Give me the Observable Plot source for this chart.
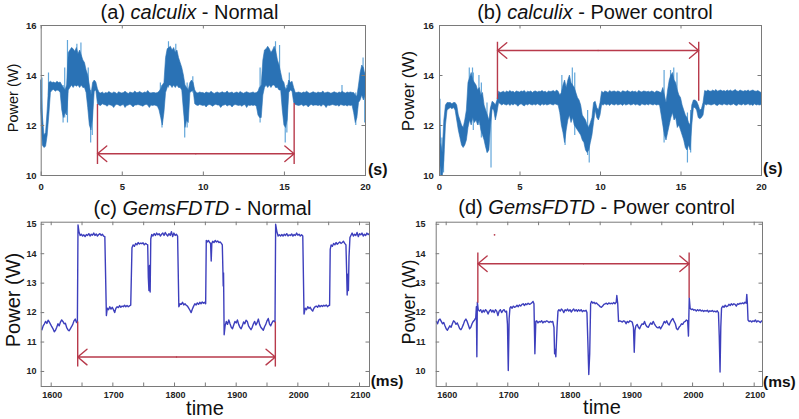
<!DOCTYPE html>
<html><head><meta charset="utf-8">
<script src="https://cdn.jsdelivr.net/npm/d3@7"></script>
<script src="https://cdn.jsdelivr.net/npm/@observablehq/plot@0.6"></script>
<style>
body{margin:0;background:#fff;}
#wrap{position:relative;width:799px;height:419px;overflow:hidden;font-family:"Liberation Sans",Arial,sans-serif;color:#111;}
.p{position:absolute;}
.title{position:absolute;font-size:20px;line-height:20px;white-space:nowrap;transform:translateX(-50%);}
.ylab{position:absolute;white-space:nowrap;line-height:1;transform:translate(-50%,-50%) rotate(-90deg);}
.unit{position:absolute;font-weight:bold;white-space:nowrap;line-height:1;}
.time{position:absolute;font-size:20px;line-height:14px;transform:translateX(-50%);white-space:nowrap;}
</style></head>
<body><div id="wrap"></div>
<script>
// ---------- tick values ----------
const sTicks = [0, 5, 10, 15, 20];
const wTicksAB = [10, 12, 14, 16];
const msTickMarks = [1600,1650,1700,1750,1800,1850,1900,1950,2000,2050,2100];
const msTickLabels = [1600,1700,1800,1900,2000,2100];
const wTicksCD = [10, 11, 12, 13, 14, 15];

// ---------- (a) calculix Normal: band envelope every 0.1 s ----------
const aLo = [
 12.6,11.2,11.1,11.15,11.6,12.4,13.3,13.4,13.42,13.35,
 13.4,13.38,13.3,12.6,12.3,12.5,12.4,13.4,13.5,13.6,
 13.5,13.6,13.55,13.6,13.5,13.6,13.5,13.5,13.3,12.7,
 12.0,11.8,12.3,13.35,13.4,12.85,12.8,12.78,12.85,12.82,
 12.8,12.75,12.82,12.8,12.78,12.7,12.8,12.83,12.8,12.76,
 12.8,12.82,12.7,12.78,12.8,12.83,12.79,12.72,12.8,12.8,
 12.82,12.8,12.78,12.75,12.8,12.83,12.8,12.7,12.8,12.78,
 12.8,12.78,12.75,12.6,12.3,12.0,12.5,13.3,13.5,13.6,
 13.6,13.5,13.6,13.5,13.6,13.5,13.5,13.4,12.6,11.9,
 12.2,12.1,13.3,13.35,13.4,12.85,12.8,12.78,12.82,12.8,
 12.78,12.8,12.72,12.8,12.82,12.8,12.75,12.8,12.83,12.8,
 12.8,12.7,12.78,12.8,12.82,12.76,12.8,12.8,12.72,12.8,
 12.82,12.8,12.78,12.8,12.75,12.8,12.82,12.7,12.8,12.78,
 12.8,12.78,12.8,12.75,12.4,12.3,12.3,13.2,13.5,13.6,
 13.5,13.6,13.5,13.6,13.6,13.5,13.5,13.4,13.4,12.6,
 12.0,11.9,12.2,13.3,13.4,13.35,12.9,12.82,12.8,12.78,
 12.8,12.82,12.76,12.8,12.8,12.72,12.8,12.82,12.78,12.8,
 12.8,12.78,12.8,12.75,12.82,12.8,12.7,12.8,12.78,12.8,
 12.82,12.8,12.78,12.8,12.75,12.82,12.8,12.78,12.8,12.76,
 12.8,12.78,12.8,12.5,12.1,12.3,12.9,13.0,13.2,13.0,
 13.2];
const aHi = [
 13.8,12.4,11.6,11.7,12.6,13.7,13.75,13.7,13.72,13.68,
 13.75,13.7,13.72,13.6,13.5,13.4,13.6,14.9,15.0,15.1,
 15.05,14.95,15.1,14.85,15.0,14.8,14.6,14.5,14.2,14.0,
 13.6,13.2,13.7,13.8,13.72,13.45,13.3,13.28,13.32,13.26,
 13.3,13.28,13.34,13.3,13.27,13.32,13.3,13.25,13.33,13.3,
 13.28,13.3,13.35,13.3,13.26,13.32,13.3,13.28,13.36,13.3,
 13.3,13.34,13.3,13.28,13.32,13.3,13.38,13.3,13.28,13.3,
 13.3,13.28,13.3,13.35,13.45,13.6,13.7,14.7,15.05,15.1,
 15.15,15.0,15.1,14.9,15.0,14.7,14.5,14.3,14.0,13.6,
 13.5,13.4,13.7,13.8,13.7,13.4,13.3,13.28,13.32,13.3,
 13.3,13.27,13.32,13.3,13.28,13.35,13.3,13.26,13.3,13.32,
 13.28,13.3,13.33,13.29,13.3,13.36,13.28,13.3,13.32,13.27,
 13.3,13.32,13.28,13.34,13.3,13.27,13.3,13.33,13.3,13.28,
 13.3,13.32,13.28,13.3,13.35,13.5,13.6,14.6,15.0,15.05,
 15.15,15.05,14.9,15.0,15.15,14.95,14.6,14.4,14.1,13.8,
 13.7,13.4,13.5,13.8,13.7,13.75,13.5,13.3,13.3,13.32,
 13.3,13.28,13.32,13.3,13.35,13.3,13.27,13.3,13.33,13.3,
 13.28,13.32,13.3,13.3,13.36,13.28,13.3,13.32,13.3,13.27,
 13.3,13.33,13.3,13.28,13.32,13.3,13.35,13.3,13.28,13.32,
 13.3,13.32,13.3,13.3,13.2,13.15,13.6,14.1,14.4,14.3,
 14.0];
// sharp excursions [time, low, high]
const aSpikes = [
 [0.05,12.0,13.9],[0.45,13.2,14.1],[1.35,12.1,13.6],[1.45,12.3,14.3],[1.62,12.1,15.4],
 [2.2,13.6,15.25],[2.45,13.6,15.3],[2.9,13.3,14.3],[3.05,11.3,13.4],[3.15,11.6,13.2],
 [7.35,13.0,13.7],[7.45,11.9,13.6],[7.85,13.5,15.35],[8.3,13.6,15.25],[8.85,11.5,13.5],
 [9.0,11.9,13.7],[9.35,13.3,13.95],[13.45,12.4,13.5],[13.5,12.1,14.3],[14.45,13.5,15.35],
 [14.7,13.5,15.2],[15.05,11.3,13.5],[15.15,11.7,13.6],[15.3,13.4,14.1],[18.55,13.2,13.6],
 [19.4,12.0,13.3],[19.85,13.2,14.7],[19.95,12.1,14.1]];

// ---------- (b) calculix Power control ----------
const bLo = [
 11.0,10.0,10.0,10.6,12.0,12.6,12.65,12.7,12.65,12.7,
 12.6,12.2,11.8,11.5,11.2,11.1,11.2,11.4,11.9,12.2,
 12.0,12.3,12.1,12.2,12.0,12.2,11.8,11.6,11.4,11.1,
 10.9,11.0,12.0,12.65,12.6,12.2,12.5,12.9,12.85,12.8,
 12.85,12.82,12.8,12.85,12.78,12.84,12.8,12.85,12.82,12.75,
 12.82,12.85,12.8,12.76,12.84,12.8,12.85,12.82,12.8,12.84,
 12.8,12.85,12.82,12.78,12.85,12.8,12.84,12.8,12.82,12.85,
 12.82,12.8,12.85,12.82,12.8,12.5,12.0,11.7,11.3,11.8,
 12.2,12.4,12.1,12.3,12.0,11.9,11.8,11.7,11.6,11.4,
 11.3,11.0,10.9,11.0,11.3,11.6,12.1,12.6,12.3,12.2,
 12.4,12.82,12.8,12.85,12.8,12.84,12.78,12.85,12.82,12.8,
 12.85,12.8,12.82,12.84,12.78,12.85,12.8,12.82,12.85,12.8,
 12.82,12.85,12.8,12.84,12.8,12.78,12.85,12.82,12.8,12.84,
 12.8,12.85,12.82,12.8,12.84,12.8,12.82,12.8,12.4,12.0,
 11.6,11.4,11.7,12.0,12.3,12.5,12.2,12.3,11.9,12.0,
 11.8,11.6,11.4,11.1,11.0,11.2,11.0,12.0,12.7,12.7,
 12.6,12.3,12.25,12.3,12.4,12.85,12.8,12.84,12.82,12.8,
 12.82,12.85,12.8,12.78,12.84,12.82,12.8,12.85,12.82,12.8,
 12.84,12.8,12.82,12.85,12.8,12.78,12.84,12.82,12.8,12.85,
 12.8,12.82,12.85,12.8,12.82,12.78,12.85,12.8,12.82,12.8,
 12.82];
const bHi = [
 13.0,11.3,10.9,12.2,12.8,12.9,12.9,12.9,12.85,12.9,
 12.9,12.8,12.4,12.2,12.0,11.9,12.2,12.6,13.7,13.9,
 14.1,13.8,13.7,13.6,13.4,13.5,13.2,13.3,12.8,12.6,
 12.4,12.2,12.7,12.95,12.9,12.8,13.0,13.35,13.3,13.32,
 13.35,13.3,13.36,13.32,13.38,13.33,13.35,13.3,13.36,13.34,
 13.32,13.36,13.34,13.38,13.3,13.35,13.33,13.36,13.3,13.35,
 13.36,13.32,13.35,13.34,13.38,13.33,13.35,13.3,13.36,13.34,
 13.35,13.38,13.33,13.4,13.35,13.2,13.3,13.6,13.8,13.5,
 13.8,14.0,13.7,13.6,13.5,13.3,13.1,13.0,12.8,12.4,
 12.3,12.2,12.0,11.9,12.1,12.3,12.9,12.95,12.7,12.6,
 12.9,13.35,13.3,13.36,13.34,13.3,13.38,13.33,13.35,13.36,
 13.32,13.36,13.34,13.3,13.37,13.35,13.33,13.38,13.34,13.32,
 13.36,13.33,13.35,13.3,13.38,13.34,13.32,13.36,13.35,13.33,
 13.35,13.32,13.36,13.34,13.3,13.36,13.35,13.32,13.3,13.5,
 13.2,12.9,13.4,13.8,14.0,14.1,13.8,13.7,13.4,13.2,
 13.1,12.8,12.6,12.4,12.3,12.1,12.0,12.8,13.0,13.0,
 12.95,12.8,12.6,12.65,12.9,13.38,13.35,13.4,13.36,13.35,
 13.4,13.36,13.42,13.35,13.38,13.4,13.36,13.38,13.35,13.4,
 13.36,13.4,13.35,13.38,13.42,13.36,13.35,13.4,13.37,13.35,
 13.38,13.36,13.4,13.35,13.38,13.4,13.36,13.35,13.38,13.34,
 13.3];
const bSpikes = [
 [0.03,11.0,13.05],[0.15,10.0,11.5],[0.25,10.1,11.0],[1.85,12.2,14.3],[2.05,12.3,14.3],
 [2.1,11.8,14.1],[2.45,12.0,14.0],[2.6,11.5,13.7],[2.95,10.9,12.9],[3.2,10.3,12.7],
 [7.6,12.2,14.0],[7.8,11.2,13.2],[8.25,12.4,14.3],[8.4,11.6,14.1],[9.2,10.8,12.6],
 [9.3,10.5,12.0],[13.95,11.3,14.2],[14.35,12.3,14.2],[14.55,12.5,14.3],[14.75,12.2,14.1],
 [15.4,10.5,12.5],[15.6,10.9,12.6]];

// ---------- (c) GemsFDTD Normal: [ms, W] ----------
const cSeries = [
 [1585,11.42],[1587,11.55],[1589,11.62],[1591,11.7],[1593,11.63],[1595,11.74],[1597,11.68],[1599,11.6],
 [1601,11.52],[1603,11.45],[1605,11.35],[1607,11.4],[1609,11.5],[1611,11.62],[1613,11.55],[1615,11.68],
 [1617,11.75],[1619,11.7],[1621,11.62],[1623,11.64],[1625,11.5],[1627,11.42],[1629,11.38],[1631,11.45],
 [1633,11.52],[1635,11.6],[1637,11.72],[1639,11.78],[1641,11.66],[1642.5,11.7],
 [1643.5,14.98],[1645,14.75],[1647,14.62],[1649,14.66],[1651,14.6],[1653,14.64],[1655,14.58],[1657,14.65],
 [1659,14.62],[1661,14.68],[1663,14.6],[1665,14.66],[1667,14.63],[1669,14.7],[1671,14.62],[1673,14.67],
 [1675,14.6],[1677,14.65],[1679,14.68],[1681,14.62],[1683,14.66],[1685,14.6],[1687,14.58],
 [1689.5,11.9],[1691,12.15],[1693,12.1],[1695,12.2],[1697,12.12],[1699,12.18],[1701,12.1],[1703,12.0],
 [1705,12.15],[1707,12.2],[1709,12.17],[1711,12.24],[1713,12.18],[1715,12.22],[1717,12.2],[1719,12.25],
 [1721,12.2],[1723,12.24],[1725,12.2],[1727,12.23],[1729,12.25],
 [1731,14.2],[1733,14.3],[1735,14.25],[1737,14.35],[1739,14.3],[1741,14.38],[1743,14.33],[1745,14.36],
 [1747,14.34],[1749,14.37],[1751,14.3],[1753,14.35],[1755,14.32],[1756.5,14.3],
 [1757.5,13.2],[1758.5,12.75],[1759.5,13.6],[1760.5,12.7],[1761.5,14.5],[1763,14.65],[1765,14.6],
 [1767,14.68],[1769,14.62],[1771,14.7],[1773,14.64],[1775,14.68],[1777,14.6],[1779,14.66],[1781,14.7],
 [1783,14.62],[1785,14.72],[1787,14.65],[1789,14.6],[1791,14.68],[1793,14.62],[1795,14.75],[1797,14.58],
 [1799,14.7],[1801,14.62],[1803,14.66],[1805,14.6],
 [1807,12.2],[1809,12.3],[1811,12.28],[1813,12.35],[1815,12.26],[1817,12.3],[1819,12.25],[1821,12.22],
 [1823,12.15],[1825,12.08],[1827,12.0],[1829,12.12],[1831,12.22],[1833,12.3],[1835,12.26],[1837,12.33],
 [1839,12.28],[1841,12.35],[1843,12.3],[1845,12.36],[1847,12.32],[1849,12.35],[1850.5,12.3],
 [1851.5,14.45],[1853,14.4],[1855,14.45],[1857,14.38],[1858.5,14.35],[1859.5,13.75],[1860.5,14.35],
 [1862,14.42],[1864,14.38],[1866,14.45],[1868,14.4],[1870,14.43],[1872,14.38],[1874,14.4],[1876,14.35],
 [1877.5,14.3],[1878.5,13.4],[1879,12.9],[1879.5,13.35],[1880.5,11.25],
 [1882,11.55],[1884,11.7],[1886,11.6],[1888,11.75],[1890,11.62],[1892,11.5],[1894,11.45],[1896,11.58],
 [1898,11.7],[1900,11.65],[1902,11.75],[1904,11.6],[1906,11.5],[1908,11.45],[1910,11.55],[1912,11.68],
 [1914,11.62],[1916,11.74],[1918,11.7],[1920,11.55],[1922,11.48],[1924,11.42],[1926,11.5],[1928,11.62],
 [1930,11.7],[1932,11.58],[1934,11.66],[1936,11.78],[1938,11.6],[1940,11.5],[1942,11.45],[1944,11.4],
 [1946,11.52],[1948,11.6],[1950,11.72],[1952,11.8],[1954,11.62],[1956,11.55],[1958,11.65],[1960,11.72],
 [1962,11.7],[1963,11.68],
 [1964,15.0],[1966,14.75],[1968,14.6],[1970,14.64],[1972,14.6],[1974,14.65],[1976,14.6],[1978,14.66],
 [1980,14.62],[1982,14.68],[1984,14.6],[1986,14.64],[1988,14.62],[1990,14.67],[1992,14.6],[1994,14.65],
 [1996,14.62],[1998,14.7],[2000,14.63],[2002,14.66],[2004,14.6],[2006,14.64],[2008,14.6],
 [2010,11.95],[2012,12.15],[2014,12.1],[2016,12.2],[2018,12.14],[2020,12.18],[2022,12.1],[2024,12.05],
 [2026,12.15],[2028,12.2],[2030,12.22],[2032,12.18],[2034,12.25],[2036,12.2],[2038,12.24],[2040,12.21],
 [2042,12.25],[2044,12.22],[2046,12.26],[2048,12.2],[2050,12.24],[2051.5,12.25],
 [2052.5,14.15],[2054,14.3],[2056,14.25],[2058,14.35],[2060,14.3],[2062,14.38],[2064,14.32],[2066,14.36],
 [2068,14.4],[2070,14.35],[2072,14.38],[2074,14.42],[2076,14.35],[2078,14.3],[2079,13.5],[2080,12.6],
 [2081,13.3],[2082,12.75],[2083,13.9],[2084.5,14.55],[2086,14.62],[2088,14.7],[2090,14.6],[2092,14.66],
 [2094,14.62],[2096,14.72],[2098,14.58],[2100,14.68],[2102,14.64],[2104,14.7],[2106,14.6],[2108,14.66],
 [2110,14.62],[2112,14.7],[2114,14.65],[2116,14.68]];

// ---------- (d) GemsFDTD Power control: [ms, W] ----------
const dSeries = [
 [1584,11.7],[1586,11.62],[1588,11.75],[1590,11.78],[1592,11.7],[1594,11.62],[1596,11.66],[1598,11.55],
 [1600,11.45],[1602,11.4],[1604,11.48],[1606,11.55],[1608,11.5],[1610,11.62],[1612,11.72],[1614,11.68],
 [1616,11.6],[1618,11.65],[1620,11.55],[1622,11.45],[1624,11.42],[1626,11.5],[1628,11.6],[1630,11.72],
 [1632,11.78],[1634,11.7],[1636,11.58],[1638,11.45],[1640,11.5],[1642,11.62],[1644,11.7],[1646,11.75],
 [1648,11.82],[1649,12.2],[1649.8,10.5],[1650.6,12.35],[1652,12.1],[1654,12.05],[1656,12.1],[1658,12.0],
 [1660,12.08],[1662,12.02],[1664,12.1],[1666,12.05],[1668,11.95],[1670,12.05],[1672,12.1],[1674,12.02],
 [1676,12.08],[1678,12.0],[1680,12.1],[1682,12.05],[1684,11.9],[1686,12.05],[1688,12.1],[1690,12.0],
 [1692,12.07],[1694,12.1],[1696,12.02],[1698,12.05],[1699.5,11.6],[1700.8,10.03],[1702.2,11.8],
 [1703.5,12.15],[1705,12.2],[1707,12.15],[1709,12.22],[1711,12.18],[1713,12.2],[1715,12.25],[1717,12.2],
 [1719,12.26],[1721,12.22],[1723,12.28],[1725,12.3],[1727,12.24],[1729,12.3],[1731,12.27],[1733,12.32],
 [1735,12.28],[1737,12.3],[1739,12.33],[1741,12.38],[1742.5,12.3],[1744,10.6],[1745.5,11.7],
 [1747,11.72],[1749,11.65],[1751,11.7],[1753,11.68],[1755,11.72],[1757,11.65],[1759,11.7],[1761,11.68],
 [1763,11.72],[1765,11.7],[1767,11.66],[1769,11.7],[1771,11.68],[1773,11.7],[1775,11.5],[1776,10.6],
 [1777,10.75],[1778,10.5],[1779,11.0],[1780,11.5],[1781.5,12.05],[1783,12.1],[1785,12.05],[1787,12.12],
 [1789,12.08],[1791,12.0],[1793,12.1],[1795,12.06],[1797,12.12],[1799,12.05],[1801,12.1],[1803,12.02],
 [1805,12.08],[1807,12.12],[1809,12.05],[1811,12.1],[1813,12.04],[1815,12.1],[1817,12.05],[1819,12.1],
 [1821,12.03],[1823,12.07],[1825,12.05],[1827,12.08],[1828.5,12.0],[1830,11.0],[1831.5,9.9],[1833,10.6],
 [1834.5,12.3],[1836,12.38],[1838,12.32],[1840,12.35],[1842,12.3],[1844,12.33],[1846,12.28],[1848,12.25],
 [1850,12.2],[1852,12.18],[1854,12.22],[1856,12.28],[1858,12.3],[1860,12.32],[1862,12.28],[1864,12.33],
 [1866,12.3],[1868,12.32],[1870,12.3],[1872,12.34],[1874,12.3],[1876,12.35],[1877,12.58],[1878.5,12.3],
 [1879.8,11.7],[1882,11.72],[1884,11.7],[1886,11.68],[1888,11.72],[1890,11.7],[1892,11.62],[1894,11.7],
 [1896,11.66],[1898,11.72],[1900,11.7],[1902,11.68],[1904,11.5],[1905.3,10.65],[1906.5,11.4],[1908,11.55],
 [1910,11.6],[1912,11.5],[1914,11.45],[1916,11.55],[1918,11.62],[1920,11.6],[1922,11.7],[1924,11.58],
 [1926,11.52],[1928,11.5],[1930,11.58],[1932,11.65],[1934,11.6],[1936,11.7],[1938,11.62],[1940,11.55],
 [1942,11.5],[1944,11.48],[1946,11.52],[1948,11.45],[1950,11.52],[1952,11.6],[1954,11.7],[1956,11.65],
 [1958,11.72],[1960,11.62],[1962,11.58],[1964,11.68],[1966,11.75],[1968,11.8],[1970,11.7],[1972,11.62],
 [1974,11.45],[1976,11.42],[1978,11.5],[1980,11.55],[1982,11.62],[1984,11.6],[1986,11.68],[1988,11.7],
 [1990,11.75],[1992,11.72],[1993.3,11.2],[1994.6,12.5],[1996,12.15],[1998,12.1],[2000,12.12],[2002,12.08],
 [2004,12.1],[2006,12.05],[2008,12.1],[2010,12.06],[2012,12.1],[2014,12.05],[2016,12.08],[2018,12.04],
 [2020,12.07],[2022,12.05],[2024,12.08],[2026,12.02],[2028,12.06],[2030,12.04],[2032,12.07],[2034,12.03],
 [2036,12.05],[2038,12.02],[2040,12.06],[2042,12.0],[2043.3,11.2],[2044.6,9.98],[2045.8,11.5],[2047,12.15],
 [2049,12.22],[2051,12.18],[2053,12.25],[2055,12.2],[2057,12.22],[2059,12.28],[2061,12.24],[2063,12.3],
 [2065,12.26],[2067,12.3],[2069,12.28],[2071,12.22],[2073,12.3],[2075,12.28],[2077,12.32],[2079,12.3],
 [2081,12.33],[2083,12.3],[2085,12.35],[2087,12.32],[2088,12.62],[2089,12.3],[2090,11.75],[2092,11.7],
 [2094,11.72],[2096,11.68],[2098,11.72],[2100,11.7],[2102,11.75],[2104,11.68],[2106,11.72],[2108,11.7],
 [2110,11.66],[2112,11.72],[2115,11.7]];

// ---------- annotation arrows: [xLeft, xRight, yArrow, yStartLeft, yStartRight, yEnd] ----------
const aArrow = [3.47, 15.6, 10.87, 12.84, 12.88, 10.44];
const bArrow = [3.6, 16.1, 15.0, 13.04, 12.97, 15.33];
const cArrow = [1643, 1963.5, 10.49, 11.68, 11.68, 10.15];
const dArrow = [1651.4, 1994.4, 13.66, 12.32, 12.49, 14.02];
const dStray = [[1678.5, 14.64]];

// ---------- drawing ----------
const RED = "#b83a4b", BAND = "#2a72b5", LIGHT = "#62a6da", PURPLE = "#3d3fbd", FRAME = "#7a7a7a";

function arrowMarks(a) {
  const [xl, xr, ya, y1l, y1r, ye] = a;
  const mid = (xl + xr) / 2;
  return [
    Plot.ruleX([[xl, y1l, ye], [xr, y1r, ye]], {x: d => d[0], y1: d => d[1], y2: d => d[2], stroke: RED, strokeWidth: 1.4}),
    Plot.arrow([[mid, xl], [mid, xr]], {x1: d => d[0], x2: d => d[1], y1: ya, y2: ya, stroke: RED, strokeWidth: 1.4, headAngle: 80, headLength: 13})
  ];
}

function frameTicks(H, W, xMarks, yMarks) {
  const L = 3.5;
  return [
    Plot.tickX(xMarks, {x: d => d, insetTop: H - L, stroke: FRAME}),
    Plot.tickX(xMarks, {x: d => d, insetBottom: H - L, stroke: FRAME}),
    Plot.tickY(yMarks, {y: d => d, insetRight: W - L, stroke: FRAME}),
    Plot.tickY(yMarks, {y: d => d, insetLeft: W - L, stroke: FRAME}),
    Plot.frame({stroke: FRAME, strokeWidth: 1})
  ];
}

function band(lo, hi) {
  return lo.map((v, i) => ({t: i / 10, lo: v, hi: hi[i]}));
}

function mk(o) {
  const fw = o.width - o.ml - o.mr, fh = o.height - o.mt - o.mb;
  const p = Plot.plot({
    width: o.width, height: o.height,
    marginLeft: o.ml, marginRight: o.mr, marginTop: o.mt, marginBottom: o.mb,
    x: {domain: o.xd, axis: null}, y: {domain: o.yd, axis: null},
    style: {background: "transparent", overflow: "visible"},
    marks: [
      ...o.data,
      ...frameTicks(fh, fw, o.xMarks, o.yMarks),
      ...o.extra,
      Plot.text(o.xLabels, {x: d => d, frameAnchor: "bottom", dy: o.xdy, dx: o.xdx, lineAnchor: "middle",
        text: d => String(d), fontWeight: "bold", fontSize: o.tfs, fontFamily: o.tff, fill: "#222"}),
      Plot.text(o.yMarks, {y: d => d, frameAnchor: "left", dx: -o.ypad, textAnchor: "end",
        text: d => String(d), fontWeight: "bold", fontSize: o.tfs, fontFamily: o.tff, fill: "#222"})
    ]
  });
  p.classList.add("p");
  p.style.left = o.left + "px"; p.style.top = o.top + "px";
  return p;
}

const wrap = document.getElementById("wrap");
const tfAB = "Liberation Sans, Arial, sans-serif";
const tfCD = "Liberation Sans Narrow, Arial Narrow, Liberation Sans, sans-serif";

wrap.appendChild(mk({left: 0, top: 0, width: 400, height: 210, ml: 40.7, mr: 35, mt: 25, mb: 35,
  xd: [0, 20], yd: [10, 16], xMarks: sTicks, xLabels: sTicks, yMarks: wTicksAB, xdy: 11.7, xdx: 0, ypad: 4.7, tfs: 9.5, tff: tfAB,
  data: [
    Plot.ruleX(aSpikes, {x: d => d[0], y1: d => d[1], y2: d => d[2], stroke: LIGHT, strokeWidth: 1.2}),
    Plot.areaY(band(aLo, aHi), {x: "t", y1: "lo", y2: "hi", fill: BAND, stroke: BAND, strokeWidth: 0.6})
  ],
  extra: arrowMarks(aArrow)}));

wrap.appendChild(mk({left: 400, top: 0, width: 399, height: 210, ml: 39, mr: 38, mt: 25, mb: 35,
  xd: [0, 20], yd: [10, 16], xMarks: sTicks, xLabels: sTicks, yMarks: wTicksAB, xdy: 11.7, xdx: 0, ypad: 5.7, tfs: 9.5, tff: tfAB,
  data: [
    Plot.ruleX(bSpikes, {x: d => d[0], y1: d => d[1], y2: d => d[2], stroke: LIGHT, strokeWidth: 1.2}),
    Plot.areaY(band(bLo, bHi), {x: "t", y1: "lo", y2: "hi", fill: BAND, stroke: BAND, strokeWidth: 0.6, clip: true})
  ],
  extra: arrowMarks(bArrow)}));

wrap.appendChild(mk({left: 0, top: 210, width: 400, height: 209, ml: 40.7, mr: 31, mt: 11.7, mb: 33,
  xd: [1583.8, 2116.2], yd: [9.49, 15.07], xMarks: msTickMarks, xLabels: msTickLabels, yMarks: wTicksCD, xdy: 9, xdx: 1, ypad: 4.7, tfs: 9, tff: tfCD,
  data: [Plot.line(cSeries, {x: d => d[0], y: d => d[1], stroke: PURPLE, strokeWidth: 1.4, clip: true})],
  extra: arrowMarks(cArrow)}));

wrap.appendChild(mk({left: 400, top: 210, width: 399, height: 209, ml: 35.7, mr: 37, mt: 11.7, mb: 33,
  xd: [1583.8, 2113.5], yd: [9.49, 15.07], xMarks: msTickMarks, xLabels: msTickLabels, yMarks: wTicksCD, xdy: 9, xdx: 1, ypad: 10.7, tfs: 9, tff: tfCD,
  data: [Plot.line(dSeries, {x: d => d[0], y: d => d[1], stroke: PURPLE, strokeWidth: 1.4, clip: true})],
  extra: [...arrowMarks(dArrow), Plot.dot(dStray, {x: d => d[0], y: d => d[1], r: 0.9, fill: RED, stroke: null})]}));

// ---------- text labels ----------
function addDiv(cls, html, css) {
  const d = document.createElement("div");
  d.className = cls; d.innerHTML = html;
  Object.assign(d.style, css);
  wrap.appendChild(d);
}
addDiv("title", "(a) <i>calculix</i> - Normal", {left: "189.5px", top: "1.5px"});
addDiv("title", "(b) <i>calculix</i> - Power control", {left: "595px", top: "1.5px"});
addDiv("title", "(c) <i>GemsFDTD</i> - Normal", {left: "202.5px", top: "198px"});
addDiv("title", "(d) <i>GemsFDTD</i> - Power control", {left: "596.7px", top: "197.3px"});

addDiv("ylab", "Power (W)", {left: "12.5px", top: "98px", fontSize: "14.5px"});
addDiv("ylab", "Power (W)", {left: "408px", top: "91px", fontSize: "17px"});
addDiv("ylab", "Power (W)", {left: "12.5px", top: "299.5px", fontSize: "20px"});
addDiv("ylab", "Power (W)", {left: "409px", top: "302px", fontSize: "18px"});

addDiv("unit", "(s)", {left: "368px", top: "161.5px", fontSize: "16px"});
addDiv("unit", "(s)", {left: "763px", top: "160.5px", fontSize: "16px"});
addDiv("unit", "(ms)", {left: "370.7px", top: "373px", fontSize: "15.5px"});
addDiv("unit", "(ms)", {left: "763px", top: "374px", fontSize: "15.5px"});

addDiv("time", "time", {left: "205px", top: "401px"});
addDiv("time", "time", {left: "602px", top: "400px"});
</script>
</body></html>
